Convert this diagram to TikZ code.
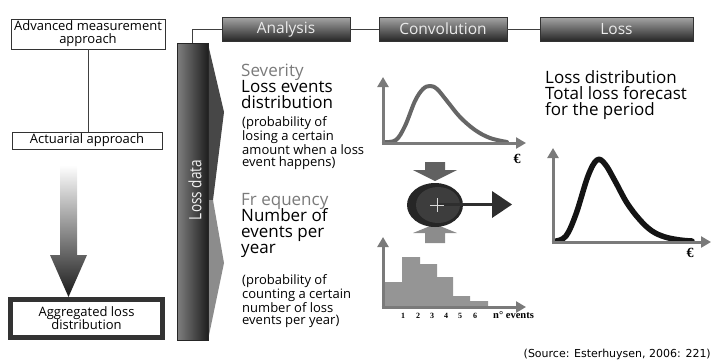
\documentclass[tikz,border=0pt]{standalone}
\usepackage{fontspec}
\setmainfont{Open Sans}
\newfontfamily\srcfont{DejaVu Sans}
\newfontfamily\numfont{Liberation Serif}
\usetikzlibrary{arrows.meta,shapes.geometric}
\definecolor{axisgray}{HTML}{7A7A7A}
\definecolor{curvegray}{HTML}{666666}
\definecolor{bargray}{HTML}{959595}
\definecolor{txtgray}{HTML}{7A7A7A}
\begin{document}
\begin{tikzpicture}[x=1pt,y=-1pt,
  lbox/.style={draw=black!80, line width=0.8pt, fill=white, align=center, inner sep=0pt, font=\fontsize{13}{13}\selectfont},
  hdr/.style={draw=black!80, line width=0.6pt, top color=black!35, bottom color=black!85, text=black!8, minimum height=24pt, inner sep=0pt, font=\fontsize{15.5}{16}\selectfont},
  conn/.style={draw=black!75, line width=0.8pt},
  axis/.style={draw=axisgray, line width=3pt, -{Triangle[length=10pt,width=11pt]}},
  bigtxt/.style={anchor=base west, inner sep=0pt, align=left, font=\fontsize{17}{16}\selectfont},
  smalltxt/.style={anchor=base west, inner sep=0pt, align=left, font=\fontsize{13}{11.7}\selectfont},
  euro/.style={inner sep=0pt, font=\numfont\bfseries\fontsize{14}{14}\selectfont},
]
\useasboundingbox (0,0) rectangle (712,362);

% left column
\node[lbox, minimum width=154pt, minimum height=30pt] (adv) at (88,34) {Advanced measurement\\approach};
\node[lbox, minimum width=150pt, minimum height=17pt] (act) at (87,140.5) {Actuarial approach};
\node[lbox, draw=black!80, line width=5pt, minimum width=152pt, minimum height=38pt] (agg) at (86.5,318.5) {Aggregated loss\\distribution};
\draw[conn] (adv.south) -- (adv.south |- act.north);
\shade[top color=white, bottom color=black!90] (60,165) -- (77,165) -- (77,255) -- (87,255) -- (68.5,297) -- (50,255) -- (60,255) -- cycle;

% loss data bar and chevrons
\fill[black!72] (208,44) -- (224,112) -- (213,200) -- (208,200) -- cycle;
\fill[black!45] (208,200) -- (213,200) -- (224,263) -- (208,340) -- cycle;
\node[draw=black!85, line width=0.6pt, left color=black!50, right color=black!88, minimum width=31pt, minimum height=297pt, inner sep=0pt] (lossbar) at (192.5,191.5) {};
\node[rotate=90, text=black!5, inner sep=0pt, font=\fontsize{17}{17}\selectfont] (ldtxt) at (195,190) {\scalebox{0.8}[1]{Loss data}};

% header
\node[hdr, minimum width=128pt] (ana) at (286,29) {Analysis};
\node[hdr, minimum width=128pt] (conv) at (443,29) {Convolution};
\node[hdr, minimum width=153pt] (loss) at (616.5,29) {Loss};
\draw[conn] (lossbar.north) |- (ana.west);
\draw[conn] (ana.east) -- (conv.west);
\draw[conn] (conv.east) -- (loss.west);

% analysis texts (base anchor = baseline of the last line)
\node[bigtxt, text=txtgray] (sev) at (241,76) {Severity};
\node[bigtxt] (sevt) at (241,108) {Loss events\\distribution};
\node[smalltxt] (sevp) at (242,166.5) {(probability of\\losing a certain\\amount when a loss\\event happens)};
\node[bigtxt, text=txtgray] (freq) at (241,205) {Fr equency};
\node[bigtxt] (freqt) at (241,253) {Number of\\events per\\year};
\node[smalltxt] (freqp) at (242,324) {(probability of\\counting a certain\\number of loss\\events per year)};

% severity chart
\draw[curvegray, line width=4pt, line cap=round, line join=round] plot[smooth, tension=0.6] coordinates {(385,142) (396,140) (405,126) (415,101) (423,89) (430,86) (437,89) (447,101) (460,117) (475,130) (490,138) (507,142)};
\coordinate (s0) at (383,144);
\coordinate (sy) at (383,77);
\coordinate (sx) at (526,143);
\draw[axis] (s0) -- (sy);
\draw[axis] (381.5,143) -- (sx);
\node[euro] (seur) at (517,159) {€};

% convolution symbol
\fill[black!62] (425,162) -- (445,162) -- (445,170) -- (457,170) -- (435,181) -- (413,170) -- (425,170) -- cycle;
\fill[black!45] (435,224) -- (457,233) -- (445,233) -- (445,243) -- (425,243) -- (425,233) -- (413,233) -- cycle;
\node[ellipse, fill=black!85, minimum width=56pt, minimum height=44pt, inner sep=0pt] (circ) at (435,205) {};
\fill[black!76] (438,205) ellipse[x radius=22pt, y radius=18pt];
\coordinate (cc) at (437,204.5);
\coordinate (ar) at (494,204.5);
\draw[black!82, line width=3.5pt] (cc) -- (ar);
\fill[black!82] (492,191) -- (512,204.5) -- (492,218) -- cycle;
\draw[white!85!black, line width=0.8pt] (430,205) -- (444,205) (437,198) -- (437,212);

% frequency histogram
\fill[bargray] (383,307) -- (383,282) -- (402,282) -- (402,257) -- (420,257) -- (420,264) -- (437,264) -- (437,277) -- (453,277) -- (453,296) -- (470,296) -- (470,301) -- (488,301) -- (488,307) -- cycle;
\coordinate (h0) at (383,308.5);
\coordinate (hy) at (383,237);
\coordinate (hx) at (526,307);
\draw[axis] (h0) -- (hy);
\draw[axis] (381.5,307) -- (hx);
\foreach \n/\xx in {1/403,2/418,3/432,4/446,5/460,6/475}
  \node[inner sep=0pt, anchor=base, font=\numfont\bfseries\fontsize{8}{8}\selectfont] (lab\n) at (\xx,318) {\n};
\node[inner sep=0pt, anchor=base west, font=\numfont\bfseries\fontsize{10.5}{10.5}\selectfont] (nev) at (493,318) {n° events};

% loss text and chart
\node[bigtxt] (lossd) at (545,115) {Loss distribution\\Total loss forecast\\for the period};
\draw[black!92, line width=5.5pt, line cap=round, line join=round] plot[smooth, tension=0.6] coordinates {(556,241) (566,236) (576,214) (588,176) (597,160) (605,164) (615,181) (627,203) (640,220) (652,231) (665,237) (680,240) (692,241)};
\coordinate (l0) at (553,244);
\coordinate (ly) at (553,148);
\coordinate (lx) at (711,242);
\draw[axis] (l0) -- (ly);
\draw[axis] (551.5,242) -- (lx);
\node[euro] (leur) at (690,253) {€};

% source
\node[inner sep=0pt, anchor=base east, font=\srcfont\fontsize{11}{11}\selectfont] (src) at (711,357.5) {(Source: Esterhuysen, 2006: 221)};
\end{tikzpicture}
\end{document}
